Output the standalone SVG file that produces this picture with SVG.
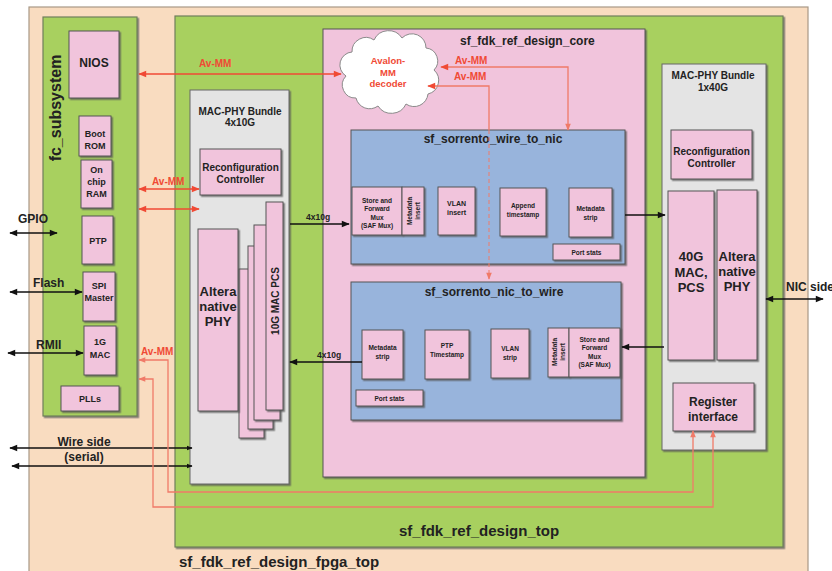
<svg xmlns="http://www.w3.org/2000/svg" width="832" height="571" viewBox="0 0 832 571">
<defs>
<filter id="sh" x="-10%" y="-10%" width="130%" height="130%"><feDropShadow dx="1.5" dy="1.5" stdDeviation="0.6" flood-color="#555" flood-opacity="0.7"/></filter>
<marker id="ab" viewBox="0 0 10 10" refX="9" refY="5" markerWidth="9" markerHeight="8" markerUnits="userSpaceOnUse" orient="auto-start-reverse"><path d="M0,1 L10,5 L0,9 z" fill="#111"/></marker>
<marker id="abs" viewBox="0 0 10 10" refX="9" refY="5" markerWidth="6" markerHeight="6" markerUnits="userSpaceOnUse" orient="auto-start-reverse"><path d="M0,1 L10,5 L0,9 z" fill="#111"/></marker>
<marker id="ar" viewBox="0 0 10 10" refX="9" refY="5" markerWidth="9" markerHeight="8" markerUnits="userSpaceOnUse" orient="auto-start-reverse"><path d="M0,1 L10,5 L0,9 z" fill="#f04a35"/></marker>
<marker id="arl" viewBox="0 0 10 10" refX="9" refY="5" markerWidth="8" markerHeight="7" markerUnits="userSpaceOnUse" orient="auto-start-reverse"><path d="M0,1 L10,5 L0,9 z" fill="#f07a68"/></marker>
</defs>
<style>
text{font-family:"Liberation Sans",Arial,sans-serif;font-weight:bold;fill:#222}
.c{text-anchor:middle}
.peach{fill:#f9dcc0;stroke:#a89886;stroke-width:1.2}
.green{fill:#a8d05f;stroke:#6f7f5a;stroke-width:1.2}
.pink{fill:#f1c4dc;stroke:#555;stroke-width:1}
.gray{fill:#e4e4e4;stroke:#666;stroke-width:1}
.blue{fill:#98b4dc;stroke:#555;stroke-width:1}
.box{fill:#f1c4dc;stroke:#555;stroke-width:1;filter:url(#sh)}
.bl{stroke:#111;stroke-width:1.3;fill:none}
.rd{stroke:#f04a35;stroke-width:1.3;fill:none}
.rl{stroke:#f07a68;stroke-width:1.3;fill:none}
.rdash{stroke:#f07a68;stroke-width:1;fill:none;stroke-dasharray:4,3}
.av{fill:#f04a35;font-size:10px}
.s6{font-size:6.5px}
.s7{font-size:7px}
.s9{font-size:9px}
.s10{font-size:10px}
</style>

<g id="fpga_top">
<rect class="peach" x="29" y="7" width="779" height="570"/>
<text x="179" y="567" style="font-size:15px">sf_fdk_ref_design_fpga_top</text>
</g>

<g id="fc_subsystem">
<rect class="green" x="43" y="17" width="94" height="399" filter="url(#sh)"/>
<text class="c" x="61" y="108" transform="rotate(-90 61 108)" style="font-size:16px">fc_subsystem</text>
</g>

<g id="design_top">
<rect class="green" x="175" y="16" width="608" height="531" filter="url(#sh)"/>
<text x="399" y="536" style="font-size:15px">sf_fdk_ref_design_top</text>
</g>

<g id="nios"><rect class="box" x="69" y="31" width="50" height="67"/><text class="c" x="94" y="67" style="font-size:12px">NIOS</text></g>
<g id="boot_rom"><rect class="box" x="79" y="116" width="32" height="40"/><text class="c s9" x="95" y="137">Boot</text><text class="c s9" x="95" y="149">ROM</text></g>
<g id="onchip_ram"><rect class="box" x="81" y="160" width="31" height="48"/><text class="c s9" x="96.5" y="173">On</text><text class="c s9" x="96.5" y="185">chip</text><text class="c s9" x="96.5" y="197">RAM</text></g>
<g id="ptp"><rect class="box" x="82" y="216" width="31" height="48"/><text class="c s9" x="98" y="244">PTP</text></g>
<g id="spi_master"><rect class="box" x="83" y="272" width="32" height="49"/><text class="c s9" x="99" y="289">SPI</text><text class="c s9" x="99" y="301">Master</text></g>
<g id="mac1g"><rect class="box" x="84" y="326" width="32" height="49"/><text class="c s9" x="100" y="345">1G</text><text class="c s9" x="100" y="358">MAC</text></g>
<g id="plls"><rect class="box" x="61" y="386" width="58" height="25"/><text class="c s9" x="90" y="402">PLLs</text></g>

<g id="bundle_4x10g">
<rect class="gray" x="190" y="90" width="99" height="394" filter="url(#sh)"/>
<text class="c s10" x="240" y="114.5">MAC-PHY Bundle</text>
<text class="c s10" x="240" y="126">4x10G</text>
</g>
<g id="reconf_left"><rect class="box" x="200" y="149" width="81" height="46"/><text class="c s10" x="240.5" y="171">Reconfiguration</text><text class="c s10" x="240.5" y="183">Controller</text></g>
<g id="mac_pcs_10g">
<rect class="box" x="239" y="269" width="25" height="169"/>
<rect class="box" x="248" y="246" width="25" height="183"/>
<rect class="box" x="254" y="225" width="26" height="195"/>
<rect class="box" x="266" y="202" width="17" height="208"/>
<text class="c s10" x="278.5" y="301" transform="rotate(-90 278.5 301)">10G MAC PCS</text>
</g>
<g id="phy_left"><rect class="box" x="198" y="229" width="40" height="182"/><text class="c" x="218" y="296" style="font-size:13px">Altera</text><text class="c" x="218" y="311" style="font-size:13px">native</text><text class="c" x="218" y="326" style="font-size:13px">PHY</text></g>

<g id="core">
<rect class="pink" x="323" y="29" width="322" height="448" filter="url(#sh)"/>
<text x="460" y="45" style="font-size:12px">sf_fdk_ref_design_core</text>
</g>

<g id="avalon_decoder">
<path d="M352,52 a14,14 0 0 1 22,-12 a16,16 0 0 1 28,-2 a14,14 0 0 1 24,10 a13,13 0 0 1 8,22 a14,14 0 0 1 -6,24 a14,14 0 0 1 -22,10 a16,16 0 0 1 -28,2 a14,14 0 0 1 -22,-8 a13,13 0 0 1 -10,-22 a13,13 0 0 1 6,-24 z" fill="#fff" stroke="#8a8a8a" stroke-width="1"/>
<text class="c av" x="388" y="64" style="font-size:9.5px">Avalon-</text>
<text class="c av" x="388" y="76" style="font-size:9.5px">MM</text>
<text class="c av" x="388" y="87" style="font-size:9.5px">decoder</text>
</g>

<g id="wire_to_nic">
<rect class="blue" x="351" y="130" width="274" height="134" filter="url(#sh)"/>
<text class="c" x="493" y="143" style="font-size:12px">sf_sorrento_wire_to_nic</text>
</g>
<g id="w2n_saf"><rect class="box" x="352" y="187" width="50" height="48"/><text class="c s6" x="377" y="203">Store and</text><text class="c s6" x="377" y="211">Forward</text><text class="c s6" x="377" y="219.5">Mux</text><text class="c s6" x="377" y="227.5">(SAF Mux)</text></g>
<g id="w2n_meta_insert"><rect class="box" x="402" y="187" width="22" height="48"/><text class="c s6" x="412" y="211" transform="rotate(-90 412 211)">Metadata</text><text class="c s6" x="420" y="211" transform="rotate(-90 420 211)">insert</text></g>
<g id="w2n_vlan"><rect class="box" x="438" y="187" width="37" height="48"/><text class="c s7" x="456.5" y="206">VLAN</text><text class="c s7" x="456.5" y="215">insert</text></g>
<g id="w2n_append"><rect class="box" x="500" y="188" width="46" height="48"/><text class="c s6" x="523" y="208">Append</text><text class="c s6" x="523" y="217">timestamp</text></g>
<g id="w2n_meta_strip"><rect class="box" x="569" y="188" width="43" height="49"/><text class="c s6" x="590.5" y="211">Metadata</text><text class="c s6" x="590.5" y="220">strip</text></g>
<g id="w2n_port_stats"><rect class="box" x="553" y="244" width="67" height="16"/><text class="c s6" x="586.5" y="254.5">Port stats</text></g>

<g id="nic_to_wire">
<rect class="blue" x="351" y="282" width="270" height="138" filter="url(#sh)"/>
<text class="c" x="494" y="296" style="font-size:12px">sf_sorrento_nic_to_wire</text>
</g>
<g id="n2w_meta_strip"><rect class="box" x="362" y="330" width="41" height="49"/><text class="c s6" x="382.5" y="350">Metadata</text><text class="c s6" x="382.5" y="359">strip</text></g>
<g id="n2w_ptp"><rect class="box" x="425" y="330" width="44" height="49"/><text class="c s6" x="447" y="348">PTP</text><text class="c s6" x="447" y="356.5">Timestamp</text></g>
<g id="n2w_vlan"><rect class="box" x="491" y="329" width="38" height="49"/><text class="c s6" x="510" y="351">VLAN</text><text class="c s6" x="510" y="360">strip</text></g>
<g id="n2w_meta_insert"><rect class="box" x="548" y="328" width="21" height="49"/><text class="c s6" x="557" y="352" transform="rotate(-90 557 352)">Metadata</text><text class="c s6" x="565" y="352" transform="rotate(-90 565 352)">insert</text></g>
<g id="n2w_saf"><rect class="box" x="569" y="328" width="51" height="49"/><text class="c s6" x="594.5" y="342">Store and</text><text class="c s6" x="594.5" y="350">Forward</text><text class="c s6" x="594.5" y="359">Mux</text><text class="c s6" x="594.5" y="367">(SAF Mux)</text></g>
<g id="n2w_port_stats"><rect class="box" x="356" y="390" width="67" height="16"/><text class="c s6" x="389.5" y="400.5">Port stats</text></g>

<g id="bundle_1x40g">
<rect class="gray" x="662" y="64" width="104" height="386" filter="url(#sh)"/>
<text class="c s10" x="713" y="79">MAC-PHY Bundle</text>
<text class="c s10" x="713" y="91">1x40G</text>
</g>
<g id="reconf_right"><rect class="box" x="671" y="130" width="81" height="49"/><text class="c s10" x="711.5" y="155">Reconfiguration</text><text class="c s10" x="711.5" y="167">Controller</text></g>
<g id="mac_pcs_40g"><rect class="box" x="668" y="191" width="46" height="169"/><text class="c" x="691" y="261" style="font-size:13px">40G</text><text class="c" x="691" y="277" style="font-size:13px">MAC,</text><text class="c" x="691" y="292" style="font-size:13px">PCS</text></g>
<g id="phy_right"><rect class="box" x="717" y="190" width="40" height="170"/><text class="c" x="737" y="261" style="font-size:13px">Altera</text><text class="c" x="737" y="276" style="font-size:13px">native</text><text class="c" x="737" y="291" style="font-size:13px">PHY</text></g>
<g id="register_if"><rect class="box" x="673" y="383" width="81" height="48"/><text class="c" x="713" y="406" style="font-size:12px">Register</text><text class="c" x="713" y="421" style="font-size:12px">interface</text></g>

<g id="connectors">
<line class="bl" x1="10" y1="233" x2="57" y2="233" marker-start="url(#ab)" marker-end="url(#ab)"/>
<text x="18" y="223" style="font-size:12px">GPIO</text>
<line class="bl" x1="10" y1="292" x2="82" y2="292" marker-start="url(#ab)" marker-end="url(#ab)"/>
<text x="33" y="287" style="font-size:12px">Flash</text>
<line class="bl" x1="8" y1="353" x2="83" y2="353" marker-start="url(#ab)" marker-end="url(#ab)"/>
<text x="36" y="349" style="font-size:12px">RMII</text>
<line class="bl" x1="10" y1="448" x2="192" y2="448" marker-start="url(#ab)" marker-end="url(#abs)"/>
<line class="bl" x1="12" y1="466" x2="192" y2="466" marker-start="url(#ab)" marker-end="url(#abs)"/>
<text class="c" x="84" y="446" style="font-size:12px">Wire side</text>
<text class="c" x="84" y="461" style="font-size:12px">(serial)</text>
<line class="bl" x1="766" y1="299" x2="823" y2="299" marker-start="url(#ab)" marker-end="url(#ab)"/>
<text x="786" y="291" style="font-size:12px">NIC side</text>
<line class="bl" x1="290" y1="224" x2="349" y2="224" marker-end="url(#ab)"/>
<text x="306" y="220" style="font-size:8.5px">4x10g</text>
<line class="bl" x1="362" y1="362" x2="290" y2="362" marker-end="url(#ab)"/>
<text x="317" y="358" style="font-size:8.5px">4x10g</text>
<line class="bl" x1="625" y1="215" x2="665" y2="215" marker-end="url(#ab)"/>
<line class="bl" x1="664" y1="347" x2="622" y2="347" marker-end="url(#ab)"/>
<line class="rd" x1="139" y1="74" x2="341" y2="74" marker-start="url(#ar)" marker-end="url(#ar)"/>
<text class="av" x="199" y="67">Av-MM</text>
<line class="rd" x1="139" y1="189" x2="199" y2="189" marker-start="url(#ar)" marker-end="url(#ar)"/>
<text class="av" x="152" y="185">Av-MM</text>
<line class="rd" x1="139" y1="209" x2="199" y2="209" marker-start="url(#ar)" marker-end="url(#ar)"/>
<polyline class="rl" points="568,130 568,67 441,67" marker-start="url(#arl)" marker-end="url(#ar)"/>
<text class="av" x="455" y="64">Av-MM</text>
<polyline class="rl" points="489,130 489,86 428,86" marker-end="url(#ar)"/>
<text class="av" x="454" y="80">Av-MM</text>
<line class="rdash" x1="489" y1="130" x2="489" y2="279" marker-end="url(#arl)"/>
<polyline class="rl" points="693,431 693,492 168,492 168,360 139,360" marker-start="url(#arl)" marker-end="url(#arl)"/>
<polyline class="rl" points="713,431 713,507 153,507 153,379 139,379" marker-start="url(#arl)" marker-end="url(#arl)"/>
<text class="av" x="141" y="355">Av-MM</text>
</g>
</svg>
